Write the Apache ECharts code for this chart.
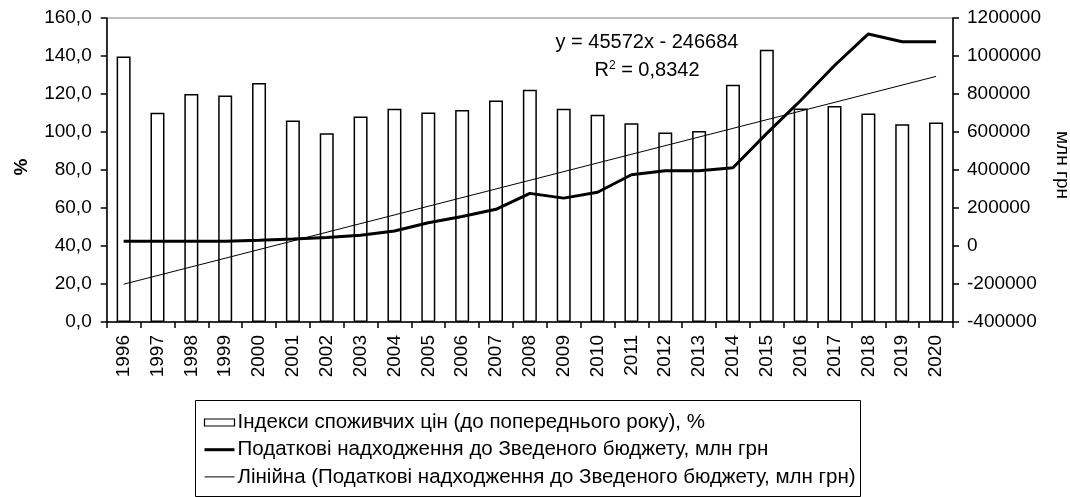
<!DOCTYPE html>
<html>
<head>
<meta charset="utf-8">
<script src="https://cdn.jsdelivr.net/npm/echarts@6/dist/echarts.min.js"></script>
<style>
html,body{margin:0;padding:0;background:#fff;}
#chart{width:1070px;height:497px;}
</style>
</head>
<body>
<div id="chart"></div>
<script>
const years = ['1996','1997','1998','1999','2000','2001','2002','2003','2004','2005','2006','2007','2008','2009','2010','2011','2012','2013','2014','2015','2016','2017','2018','2019','2020'];
const cpi = [139.7,110.1,120.0,119.2,125.8,106.1,99.4,108.2,112.3,110.3,111.6,116.6,122.3,112.3,109.1,104.6,99.8,100.5,124.9,143.3,112.4,113.7,109.8,104.1,105.0];
const taxRevenue = [24500,24500,24500,25500,30500,36500,45000,56500,79000,122000,155000,193000,277000,252000,283000,375000,396000,396000,412000,593000,766000,950000,1116000,1075000,1075000];
const trendEnds = [-201112, 892616];
const leftTicks = {min:0, max:160, interval:20};
const rightTicks = {min:-400000, max:1200000, interval:200000};
const seriesNames = ['Індекси споживчих цін (до попереднього року), %','Податкові надходження до Зведеного бюджету, млн грн','Лінійна (Податкові надходження до Зведеного бюджету, млн грн)'];
const equationText = 'y = 45572x - 246684';
const r2Text = '0,8342';

const FONT = 'Liberation Sans, Arial, sans-serif';
const chart = echarts.init(document.getElementById('chart'), null, {renderer:'canvas'});
chart.setOption({
  animation:false,
  textStyle:{fontFamily:FONT},
  grid:{left:106.7, right:117, top:18, bottom:175, show:true, borderColor:'#808080', borderWidth:1, backgroundColor:'transparent'},
  xAxis:{type:'category', data:years, boundaryGap:true,
    axisLine:{lineStyle:{color:'#000', width:1.5}},
    axisTick:{show:true, length:6, alignWithLabel:false, lineStyle:{color:'#000', width:1.5}},
    axisLabel:{rotate:90, margin:13, color:'#000', fontSize:19, fontFamily:FONT, interval:0},
    splitLine:{show:false}},
  yAxis:[
    {type:'value', min:leftTicks.min, max:leftTicks.max, interval:leftTicks.interval, position:'left',
     axisLine:{show:true, lineStyle:{color:'#000', width:1.5}},
     axisTick:{show:true, length:6, lineStyle:{color:'#000', width:1.5}},
     axisLabel:{color:'#000', fontSize:19, fontFamily:FONT, margin:15, formatter:v=>v.toFixed(1).replace('.',',')},
     splitLine:{show:false}},
    {type:'value', min:rightTicks.min, max:rightTicks.max, interval:rightTicks.interval, position:'right',
     axisLine:{show:true, lineStyle:{color:'#000', width:1.5}},
     axisTick:{show:true, length:6, lineStyle:{color:'#000', width:1.5}},
     axisLabel:{color:'#000', fontSize:19, fontFamily:FONT, margin:14, formatter:v=>String(v)},
     splitLine:{show:false}}
  ],
  legend:{show:true, orient:'vertical', left:203, top:412, padding:0, itemWidth:30, itemHeight:7, itemGap:6.2,
    textStyle:{color:'#000', fontSize:20.5, fontFamily:FONT, padding:[0,0,0,-2]},
    data:[
      {name:seriesNames[0], icon:'rect', itemStyle:{color:'#fff', borderColor:'#000', borderWidth:1.2}},
      {name:seriesNames[1], itemStyle:{color:'rgba(0,0,0,0)', borderWidth:0, opacity:0}, lineStyle:{width:3, color:'#000'}},
      {name:seriesNames[2], itemStyle:{color:'rgba(0,0,0,0)', borderWidth:0, opacity:0}, lineStyle:{width:1, color:'#000'}}
    ]},
  series:[
    {name:seriesNames[0], type:'bar', data:cpi, yAxisIndex:0, barWidth:14,
     itemStyle:{color:'#fff', borderColor:'#000', borderWidth:1.5}, z:2},
    {name:seriesNames[1], type:'line', data:taxRevenue, yAxisIndex:1, symbol:'none', showSymbol:false,
     lineStyle:{color:'#000', width:3}, itemStyle:{color:'#000'}, z:4},
    {name:seriesNames[2], type:'line', data:[[years[0], trendEnds[0]],[years[years.length-1], trendEnds[1]]], yAxisIndex:1,
     symbol:'none', showSymbol:false, lineStyle:{color:'#000', width:1}, itemStyle:{color:'#000'}, z:3}
  ],
  graphic:[
    {type:'rect', left:195, top:400, shape:{width:665, height:96}, style:{fill:'transparent', stroke:'#000', lineWidth:1}, z:0},
    {type:'text', x:22, y:167, rotation:Math.PI/2, style:{text:'%', font:'bold 19px '+FONT, fill:'#000', align:'center', verticalAlign:'middle'}},
    {type:'text', x:1062, y:165, rotation:-Math.PI/2, style:{text:'млн грн', font:'19px '+FONT, fill:'#000', align:'center', verticalAlign:'middle'}},
    {type:'text', x:647, y:42, style:{text:equationText, font:'20px '+FONT, fill:'#000', align:'center', verticalAlign:'middle'}},
    {type:'text', x:647, y:70, style:{text:'R{sup|2} = '+r2Text, font:'20px '+FONT, fill:'#000', align:'center', verticalAlign:'middle',
      rich:{sup:{fontSize:12, fontFamily:FONT, verticalAlign:'top', padding:[0,0,9,0]}}}}
  ]
});
</script>
</body>
</html>
